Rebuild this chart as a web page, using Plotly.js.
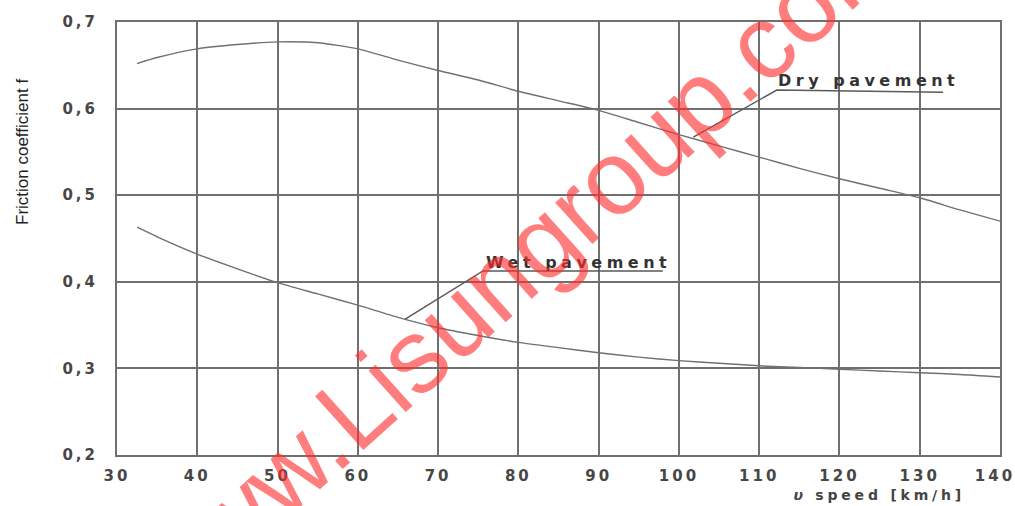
<!DOCTYPE html>
<html>
<head>
<meta charset="utf-8">
<script src="https://cdn.plot.ly/plotly-3.0.1.min.js"></script>
<style>
  html, body { margin: 0; padding: 0; background: #ffffff; }
  #chart { width: 1015px; height: 506px; }
</style>
</head>
<body>
<div id="chart"></div>
<script>
// ---- data ----
const speedDry = [32.5, 35, 40, 45, 50, 55, 60, 65, 70, 75, 80, 85, 90, 95, 100, 105, 110, 115, 120, 125, 130, 135, 140];
const frictionDry = [0.652, 0.659, 0.669, 0.674, 0.677, 0.676, 0.669, 0.656, 0.644, 0.633, 0.620, 0.609, 0.598, 0.584, 0.570, 0.557, 0.544, 0.531, 0.519, 0.508, 0.497, 0.483, 0.470];
const speedWet = [32.5, 35, 40, 45, 50, 55, 60, 65, 70, 75, 80, 85, 90, 95, 100, 105, 110, 115, 120, 125, 130, 135, 140];
const frictionWet = [0.463, 0.452, 0.432, 0.415, 0.399, 0.386, 0.373, 0.359, 0.347, 0.338, 0.330, 0.324, 0.318, 0.313, 0.309, 0.306, 0.303, 0.301, 0.299, 0.297, 0.295, 0.293, 0.290];
const xTicks = [30, 40, 50, 60, 70, 80, 90, 100, 110, 120, 130, 140];
const yTickVals = [0.2, 0.3, 0.4, 0.5, 0.6, 0.7];
const yTickText = ['0,2', '0,3', '0,4', '0,5', '0,6', '0,7'];
const seriesNames = ['Dry pavement', 'Wet pavement'];

const gridCol = '#6f6f6f';
const curveCol = '#707070';
const tickFont = {family: 'DejaVu Sans, Arial, sans-serif', size: 15, color: '#474747', weight: 'bold'};

const traces = [
  {x: speedDry, y: frictionDry, name: seriesNames[0], mode: 'lines',
   line: {color: curveCol, width: 1.4, shape: 'spline', smoothing: 0.6}, hoverinfo: 'x+y'},
  {x: speedWet, y: frictionWet, name: seriesNames[1], mode: 'lines',
   line: {color: curveCol, width: 1.4, shape: 'spline', smoothing: 0.6}, hoverinfo: 'x+y'}
];

const layout = {
  width: 1015, height: 506,
  margin: {l: 117, r: 15, t: 22, b: 51},
  paper_bgcolor: '#ffffff', plot_bgcolor: '#ffffff',
  showlegend: false,
  xaxis: {
    range: [30, 140], tickvals: xTicks, ticks: '',
    showgrid: true, gridcolor: gridCol, gridwidth: 2,
    showline: true, linecolor: gridCol, linewidth: 2, mirror: true,
    zeroline: false, tickfont: tickFont, ticklabelstandoff: 6,
    ticklabeloverflow: 'allow'
  },
  yaxis: {
    range: [0.2, 0.7], tickvals: yTickVals, ticktext: yTickText, ticks: '',
    showgrid: true, gridcolor: gridCol, gridwidth: 2,
    showline: true, linecolor: gridCol, linewidth: 2, mirror: true,
    zeroline: false, tickfont: tickFont, ticklabelstandoff: 14,
    ticklabeloverflow: 'allow'
  },
  shapes: [
    {type: 'path', xref: 'x', yref: 'y', path: 'M101.8,0.567 L112.2,0.6215 L132.9,0.619',
     line: {color: '#5a5a5a', width: 1.5}},
    {type: 'path', xref: 'x', yref: 'y', path: 'M65.9,0.357 L75.6,0.4125 L98.0,0.4125',
     line: {color: '#5a5a5a', width: 1.5}}
  ],
  annotations: [
    {text: seriesNames[0], xref: 'paper', yref: 'paper', x: (869 - 117) / 883, y: (455 - 80) / 433,
     xanchor: 'center', yanchor: 'middle', showarrow: false,
     font: {family: 'DejaVu Sans, Arial, sans-serif', size: 16, color: '#333333', weight: 'bold'}},
    {text: seriesNames[1], xref: 'paper', yref: 'paper', x: (579 - 117) / 883, y: (455 - 262) / 433,
     xanchor: 'center', yanchor: 'middle', showarrow: false,
     font: {family: 'DejaVu Sans, Arial, sans-serif', size: 16, color: '#333333', weight: 'bold'}},
    {text: '<i>υ</i> speed [km/h]', xref: 'paper', yref: 'paper', x: (879 - 117) / 883, y: (455 - 495) / 433,
     xanchor: 'center', yanchor: 'middle', showarrow: false,
     font: {family: 'DejaVu Sans, Arial, sans-serif', size: 14, color: '#444444', weight: 'bold'}},
    {text: 'Friction coefficient f', xref: 'paper', yref: 'paper', x: (22 - 117) / 883, y: (455 - 152) / 433,
     xanchor: 'center', yanchor: 'middle', textangle: -90, showarrow: false,
     font: {family: 'Arial, Liberation Sans, sans-serif', size: 17, color: '#222222'}},
    {text: 'www.Lisungroup.com', xref: 'paper', yref: 'paper', x: (516 - 117) / 883, y: (455 - 263) / 433,
     xanchor: 'center', yanchor: 'middle', textangle: -42, showarrow: false,
     font: {family: 'Arial, Liberation Sans, sans-serif', size: 105, color: 'rgba(255,45,45,0.62)'}}
  ]
};

Plotly.newPlot('chart', traces, layout, {displayModeBar: false, staticPlot: true}).then(function () {
  const xt = document.querySelectorAll('.xtick text');
  xt.forEach(function (t) { t.style.letterSpacing = '3px'; });
  if (xt.length) xt[xt.length - 1].setAttribute('dx', '-5');
  document.querySelectorAll('.ytick text').forEach(function (t) {
    t.style.letterSpacing = '3px';
  });
  document.querySelectorAll('.annotation-text').forEach(function (t) {
    const s = t.textContent;
    if (s.indexOf('pavement') >= 0) t.style.letterSpacing = '4.5px';
    else if (s.indexOf('speed') >= 0) t.style.letterSpacing = '3.8px';
  });
});
</script>
</body>
</html>
